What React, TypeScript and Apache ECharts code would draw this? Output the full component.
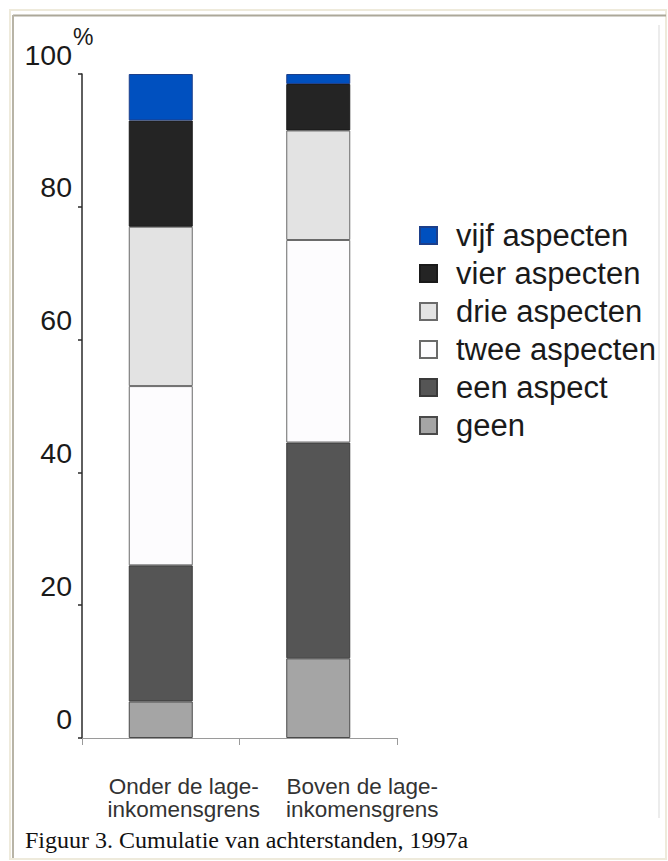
import React, { useEffect, useRef } from 'react';
import * as echarts from 'echarts';

const categories = ['Onder de lage-\ninkomensgrens', 'Boven de lage-\ninkomensgrens'];
const categoryShift = [46, 88];
const seriesNames = ['geen', 'een aspect', 'twee aspecten', 'drie aspecten', 'vier aspecten', 'vijf aspecten'];
const geen = [5.5, 12];
const eenAspect = [20.5, 32.5];
const tweeAspecten = [27, 30.5];
const drieAspecten = [24, 16.5];
const vierAspecten = [16, 7];
const vijfAspecten = [7, 1.5];
const seriesValues = [geen, eenAspect, tweeAspecten, drieAspecten, vierAspecten, vijfAspecten];
const colors = ['#a5a5a5', '#555555', '#fdfcfe', '#e3e3e3', '#242424', '#0050bf'];
const borderColors = ['#4a4a4a', '#3a3a3a', '#6a6a6a', '#6a6a6a', '#1a1a1a', '#1d3f8a'];
const yMin = 0;
const yMax = 100;
const yStep = 20;
const caption = 'Figuur 3. Cumulatie van achterstanden, 1997a';
const unitLabel = '%';

const SANS = '"Liberation Sans", Arial, Helvetica, sans-serif';
const SERIF = '"Liberation Serif", "Times New Roman", serif';

export default function App() {
  const ref = useRef<HTMLDivElement>(null);
  useEffect(() => {
    if (!ref.current) return;
    const chart = echarts.init(ref.current, undefined, { renderer: 'svg' });
    chart.setOption({
      animation: false,
      backgroundColor: '#ffffff',
      grid: { left: 82, top: 74, width: 315, height: 664, containLabel: false },
      legend: {
        orient: 'vertical',
        left: 414,
        top: 215,
        padding: 5,
        itemWidth: 17,
        itemHeight: 17,
        itemGap: 7,
        icon: 'rect',
        selectedMode: false,
        data: seriesNames.slice().reverse(),
        textStyle: {
          fontFamily: SANS,
          fontSize: 31,
          color: '#1a1a1a',
          padding: [0, 0, 0, 14],
        },
      },
      xAxis: {
        type: 'category',
        data: categories.map((c, i) => ({ value: c, textStyle: { padding: [0, 0, 0, categoryShift[i]] } })),
        axisLine: { show: true, lineStyle: { color: '#9a9a9a', width: 1 } },
        axisTick: { show: true, length: 7, lineStyle: { color: '#9a9a9a', width: 1 } },
        axisLabel: {
          fontFamily: SANS,
          fontSize: 22.5,
          lineHeight: 23,
          color: '#333333',
          margin: 37,
          interval: 0,
        },
        splitLine: { show: false },
      },
      yAxis: {
        type: 'value',
        min: yMin,
        max: yMax,
        interval: yStep,
        axisLine: { show: true, lineStyle: { color: '#2a2a2a', width: 1.5 } },
        axisTick: { show: true, length: 4, lineStyle: { color: '#2a2a2a', width: 1.5 } },
        splitLine: { show: false },
        axisLabel: {
          fontFamily: SANS,
          fontSize: 28.5,
          color: '#1a1a1a',
          margin: 10,
          verticalAlign: 'bottom',
          padding: [0, 0, 5, 0],
        },
      },
      series: seriesNames.map((name, i) => ({
        name,
        type: 'bar',
        stack: 'total',
        barWidth: 64,
        data: seriesValues[i],
        itemStyle: { color: colors[i], borderColor: borderColors[i], borderWidth: 1 },
      })),
      graphic: [
        { type: 'rect', shape: { x: 10, y: 10, width: 656, height: 849 }, style: { fill: 'none', stroke: '#eeeadb', lineWidth: 2 }, silent: true },
        { type: 'line', shape: { x1: 13, y1: 15.5, x2: 666, y2: 15.5 }, style: { stroke: '#aca899', lineWidth: 2 }, silent: true },
        { type: 'line', shape: { x1: 13, y1: 15, x2: 13, y2: 858 }, style: { stroke: '#b8b4a6', lineWidth: 2 }, silent: true },
        { type: 'line', shape: { x1: 659, y1: 25, x2: 659, y2: 818 }, style: { stroke: '#ececec', lineWidth: 2 }, silent: true },
        {
          type: 'text',
          x: 73,
          y: 37,
          style: { text: unitLabel, fontFamily: SANS, fontSize: 23, fill: '#1a1a1a', align: 'left', verticalAlign: 'middle' },
          silent: true,
        },
        {
          type: 'text',
          x: 25,
          y: 840,
          style: { text: caption, fontFamily: SERIF, fontSize: 24, fill: '#111111', align: 'left', verticalAlign: 'middle' },
          silent: true,
        },
      ],
    });
    return () => chart.dispose();
  }, []);
  return <div ref={ref} style={{ position: 'absolute', left: 0, top: 0, width: 668, height: 861 }} />;
}
